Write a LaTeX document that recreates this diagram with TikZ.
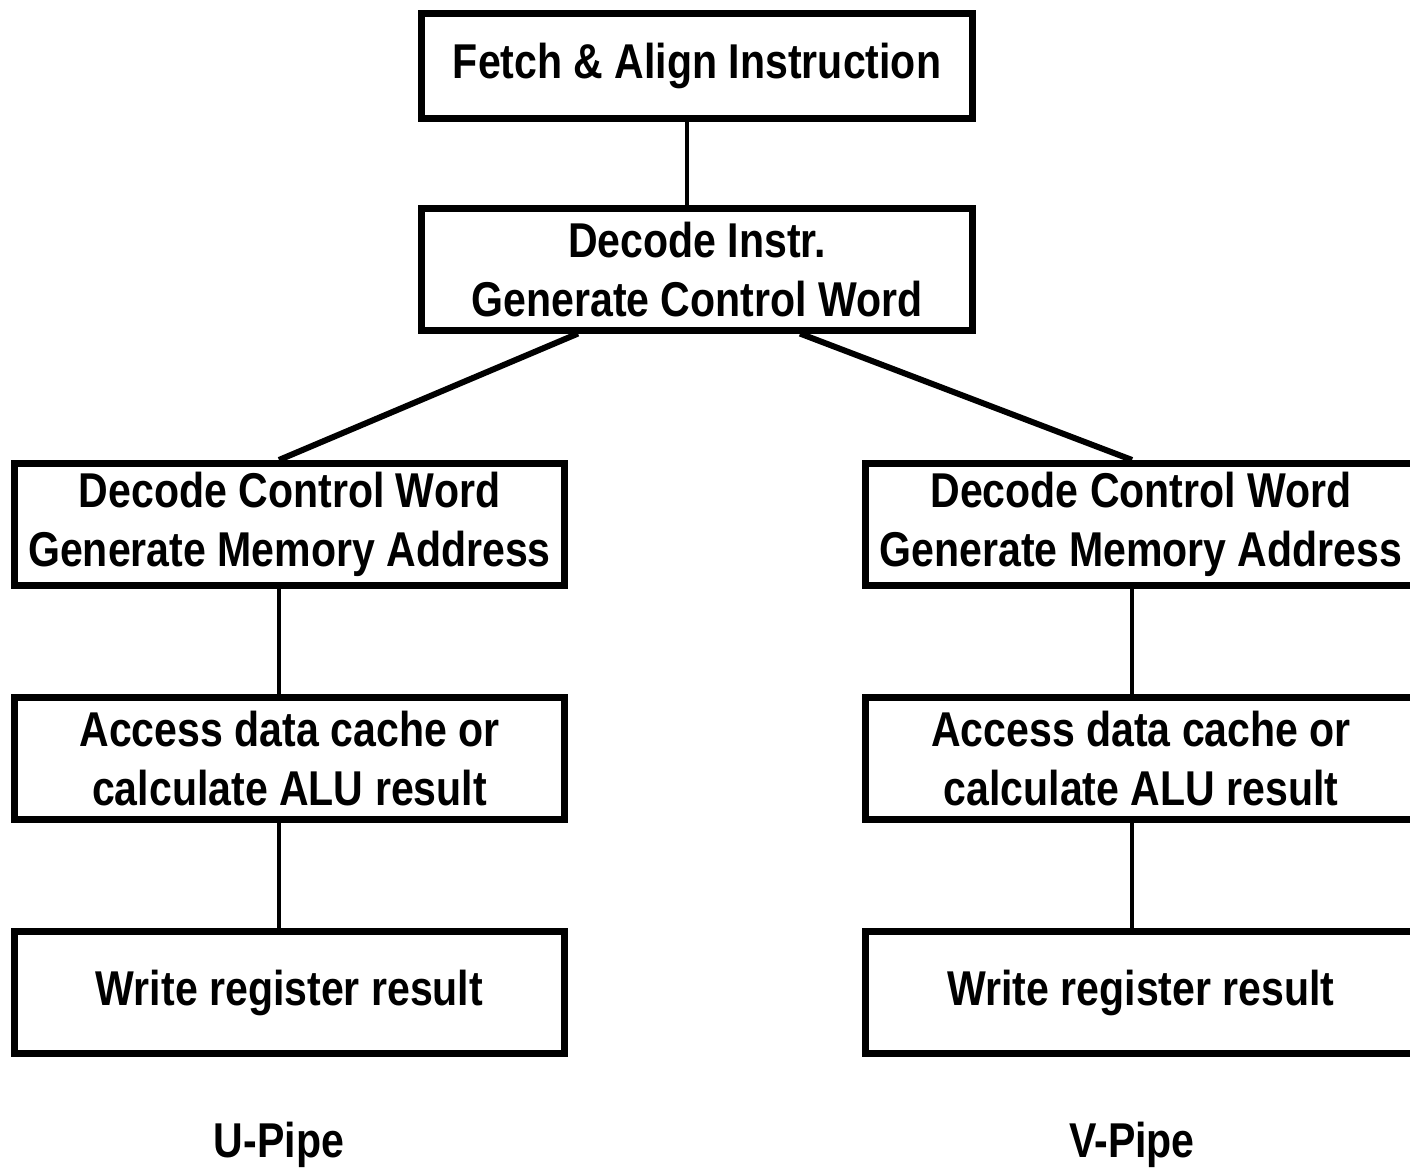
\documentclass[tikz,border=0pt]{standalone}
\usepackage{fontspec}
\setmainfont{Liberation Sans}[FakeStretch=0.84]
\usetikzlibrary{calc}

\begin{document}
\begin{tikzpicture}[x=0.01cm,y=-0.01cm,
    stage/.style={rectangle,draw,line width=2pt,align=center,inner sep=0pt,
      minimum width=5.5cm,minimum height=1.22cm,font=\bfseries\fontsize{13.9}{16.8}\selectfont},
    pipename/.style={font=\bfseries\fontsize{13.9}{16.8}\selectfont}]
      \useasboundingbox (0,0) rectangle (1410,1172);
      \node [stage,minimum height=1.04cm] (fetch) at (697,66) {Fetch \& Align Instruction};
      \node [stage,minimum height=1.21cm] (decode) at (697,269.5) {Decode Instr.\\Generate Control Word};
      \draw [line width=1.2pt] (fetch.south -| 687,0) -- (decode.north -| 687,0);
      \foreach \s/\cx/\lx/\sx/\name in {u/289.5/279/578/U-Pipe, v/1141/1132/800/V-Pipe}
       {\node [stage] (\s1) at (\cx,524.5) {Decode Control Word\\Generate Memory Address};
        \node [stage] (\s2) at (\cx,758.5) {Access data cache or\\calculate ALU result};
        \node [stage] (\s3) at (\cx,992.5) {Write register result};
        \node [pipename] (\s name) at (\lx,1145) {\name};
        \draw [line width=1.7pt] (decode.south -| \sx,0) -- (\s1.north -| \lx,0);
        \draw [line width=1.2pt] (\s1.south -| \lx,0) -- (\s2.north -| \lx,0);
        \draw [line width=1.2pt] (\s2.south -| \lx,0) -- (\s3.north -| \lx,0);}
\end{tikzpicture}
\end{document}
